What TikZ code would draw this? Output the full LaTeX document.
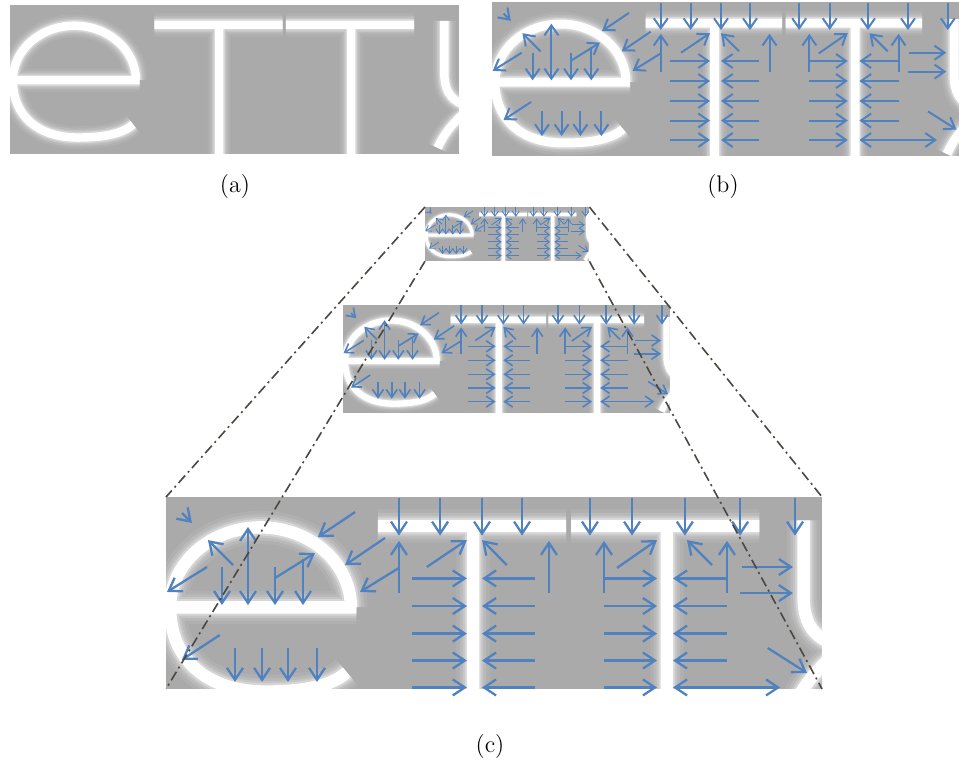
\documentclass[tikz,border=0pt]{standalone}
\usetikzlibrary{arrows.meta}

\definecolor{panelgrey}{HTML}{AAAAAA}
\definecolor{flowblue}{HTML}{5182C0}
\definecolor{guidegrey}{HTML}{4B4741}

% White letter strokes "eTTy", in the local frame of one panel (467 x 154 units)
\newcommand\glyphstroke[1]{%
  \draw[white,#1]
    (-6,80) -- (138,80)
    (134,80) arc[start angle=0,end angle=-180,x radius=65.5,y radius=58]
      .. controls (3,118) and (30,141) .. (72,141)
      .. controls (100,141) and (120,137) .. (131,127)
    (153.6,21) -- (290,21)
    (293.5,21) -- (430,21)
    (222.5,21) -- (222.5,170)
    (363,21) -- (363,170)
    (462,17) -- (462,72) .. controls (462,90) and (468,100) .. (482,106)
    (482,116) .. controls (470,127) and (461,138) .. (455,152);
}

% Letters with a soft halo; #1 is the panel scale
\newcommand\drawletters[1]{%
  \pgfmathsetlengthmacro\haloA{12pt*#1}%
  \pgfmathsetlengthmacro\haloB{9.5pt*#1}%
  \pgfmathsetlengthmacro\haloC{7.5pt*#1}%
  \pgfmathsetlengthmacro\haloD{6pt*#1}%
  \pgfmathsetlengthmacro\coreW{4.5pt*#1}%
  \glyphstroke{line width=\haloA,opacity=.08}%
  \glyphstroke{line width=\haloB,opacity=.12}%
  \glyphstroke{line width=\haloC,opacity=.18}%
  \glyphstroke{line width=\haloD,opacity=.3}%
  \glyphstroke{line width=\coreW}%
}

% Blue flow arrows, same local frame
\newcommand\drawflow{%
  \draw[flow,->] (11.6,11.6) -- (18.8,18.8);
  \draw[flow,->] (48.6,49.3) -- (30.4,31.2);
  \draw[flow,<->] (59.4,21.7) -- (59.4,78.3);
  \draw[flow,->] (29.7,50.7) -- (0.7,68.8);
  \draw[flow,->] (40.6,50.7) -- (40.6,78.3);
  \draw[flow,->] (79,50.7) -- (79,78.3);
  \draw[flow,->] (79,58.7) -- (108,40.6);
  \draw[flow,->] (99.3,45) -- (99.3,78.3);
  \draw[flow,->] (137,10.9) -- (110,29);
  \draw[flow,->] (158.7,29.7) -- (129.7,49.3);
  \draw[flow,->] (168.8,51.4) -- (140.6,68.8);
  \draw[flow,->] (189,50.7) -- (218,31.2);
  \foreach \lx in {50,69.6,88.4,109.4}
    \draw[flow,->] (\lx,109.4) -- (\lx,134);
  \draw[flow,->] (39,100) -- (11.5,118);
  \foreach \lx in {168.8,198.6,229,258,307.2,337.7,376,416,455.8}
    \draw[flow,->] (\lx,0.7) -- (\lx,28);
  \foreach \lx in {168.8,277.5,317.4,406.5}
    \draw[flow,->] (\lx,69.6) -- (\lx,31.8);
  \foreach \ly in {59,79,99,118.5,138} {
    \draw[flow,->] (178.3,\ly) -- (218,\ly);
    \draw[flow,->] (267.4,\ly) -- (229,\ly);
    \draw[flow,->] (317.4,\ly) -- (355.8,\ly);
  }
  \foreach \ly in {59,79,99,118.5}
    \draw[flow,->] (406.5,\ly) -- (367.4,\ly);
  \draw[flow,<->] (367.4,138) -- (445,138);
  \draw[flow,->] (247,49.3) -- (229,31.2);
  \draw[flow,->] (326.8,51.4) -- (355.8,31.2);
  \draw[flow,->] (395.7,49.3) -- (377.5,31.2);
  \draw[flow,->] (417.4,50.7) -- (454.3,50.7);
  \draw[flow,->] (416,69.6) -- (454.3,69.6);
  \draw[flow,->] (436,109.4) -- (464.5,127.5);
}

\tikzset{
  guide/.style={draw=guidegrey,line width=0.8pt,
    dash pattern=on 5pt off 2pt on 1pt off 2pt},
  caption/.style={font=\fontsize{12}{14}\selectfont,inner sep=0pt},
  flowstyle/.style n args={3}{flow/.style={draw=flowblue,line width=#1},
    >={Straight Barb[length=#2,width=#3]}}
}

\begin{document}
\begin{tikzpicture}[x=0.5pt,y=-0.5pt]
\useasboundingbox (0,0) rectangle (959,766);

% (a) plain image
\begin{scope}[shift={(10,5)},scale=0.94]
  \fill[panelgrey] (0,0) rectangle (477.7,158.5);
  \begin{scope}
    \clip (0,0) rectangle (477.7,158.5);
    \drawletters{0.94}
  \end{scope}
\end{scope}

% (b) image with flow field
\begin{scope}[shift={(492,2)},flowstyle={1pt}{5pt}{7pt}]
  \fill[panelgrey] (0,0) rectangle (467,154);
  \begin{scope}
    \clip (0,0) rectangle (467,154);
    \drawletters{1}
  \end{scope}
  \drawflow
\end{scope}

% (c) small copy
\begin{scope}[shift={(425,207)},scale=0.352,flowstyle={0.45pt}{2.5pt}{3.5pt}]
  \fill[panelgrey] (0,0) rectangle (467,154);
  \begin{scope}
    \clip (0,0) rectangle (467,154);
    \drawletters{0.352}
  \end{scope}
  \drawflow
  \coordinate (S-tl) at (0,0);
  \coordinate (S-tr) at (467,0);
  \coordinate (S-bl) at (0,154);
  \coordinate (S-br) at (467,154);
\end{scope}

% (c) medium copy
\begin{scope}[shift={(343,305)},scale=0.70,flowstyle={0.8pt}{4pt}{5.5pt}]
  \fill[panelgrey] (0,0) rectangle (467,154);
  \begin{scope}
    \clip (0,0) rectangle (467,154);
    \drawletters{0.70}
  \end{scope}
  \drawflow
\end{scope}

% (c) large copy
\begin{scope}[shift={(166,497)},scale=1.38,flowstyle={1.15pt}{6pt}{8pt}]
  \fill[panelgrey] (0,0) rectangle (475.4,139.1);
  \begin{scope}
    \clip (0,0) rectangle (475.4,139.1);
    \drawletters{1.38}
  \end{scope}
  \drawflow
  \coordinate (L-tl) at (0,0);
  \coordinate (L-tr) at (475.4,0);
  \coordinate (L-bl) at (0,139.1);
  \coordinate (L-br) at (475.4,139.1);
\end{scope}

% perspective guide lines
\draw[guide] (S-tl) -- (L-tl);
\draw[guide] (S-bl) -- (L-bl);
\draw[guide] (S-tr) -- (L-tr);
\draw[guide] (S-br) -- (L-br);

% captions
\node[caption] (cap-a) at (235,187) {(a)};
\node[caption] (cap-b) at (723,187) {(b)};
\node[caption] (cap-c) at (490,747) {(c)};
\end{tikzpicture}
\end{document}
